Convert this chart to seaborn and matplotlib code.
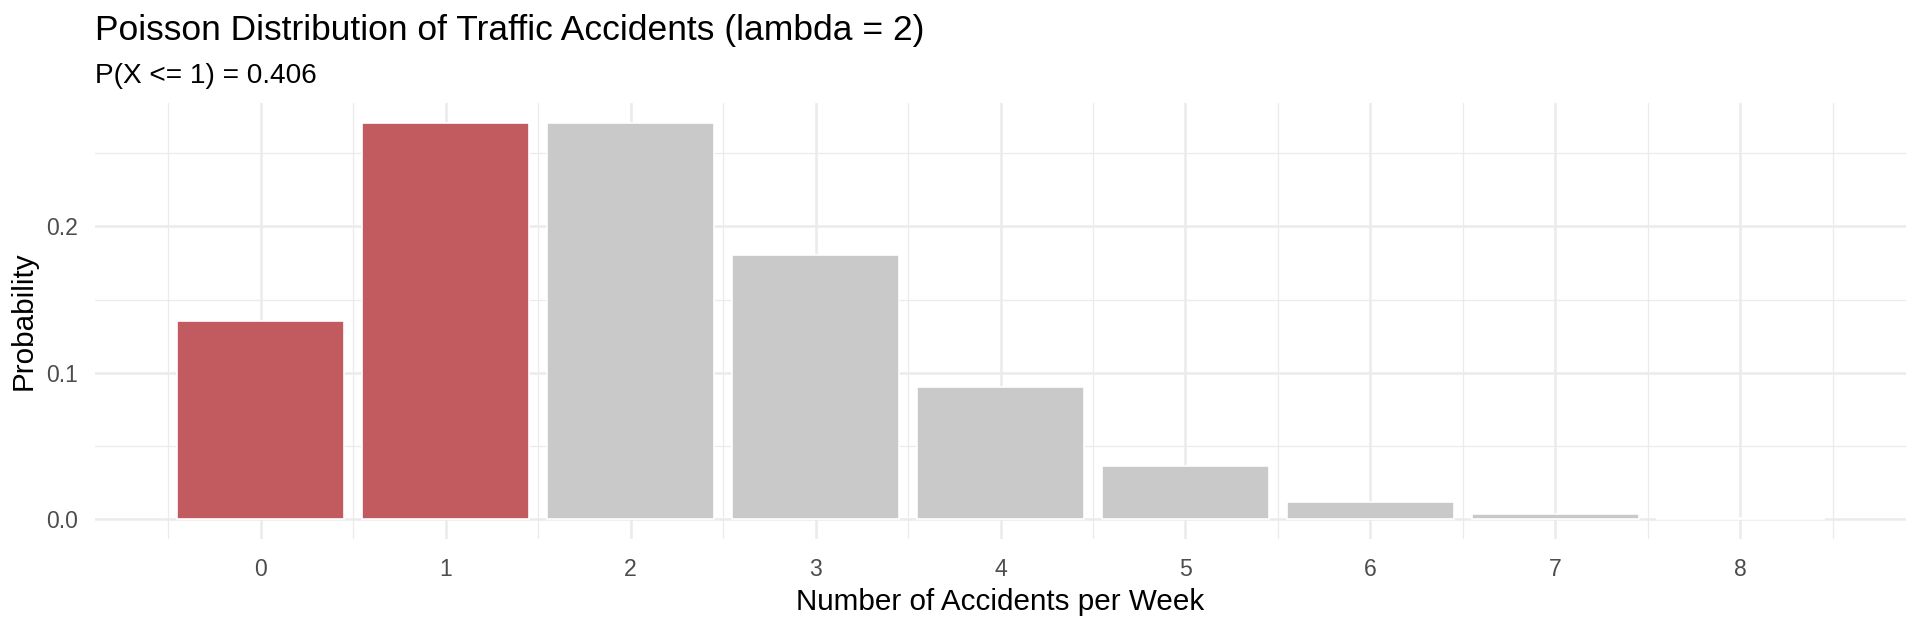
import seaborn as sns
import matplotlib.pyplot as plt
import matplotlib.ticker as mticker
import pandas as pd

# Poisson(lambda = 2) probabilities
accidents = [0, 1, 2, 3, 4, 5, 6, 7, 8]
probability = [0.1353, 0.2707, 0.2707, 0.1804, 0.0902, 0.0361, 0.0120, 0.0034, 0.0009]
highlight = ['<= 1', '<= 1', 'other', 'other', 'other', 'other', 'other', 'other', 'other']
colors = {'<= 1': '#C25B5F', 'other': '#C9C9C9'}

df = pd.DataFrame({'accidents': accidents, 'probability': probability, 'highlight': highlight})

sns.set_style('white')
plt.rcParams['font.family'] = ['Liberation Sans', 'DejaVu Sans']

fig = plt.figure(figsize=(19.2, 6.24), dpi=100)
ax = fig.add_axes([95 / 1920, 85 / 624, 1811 / 1920, 436 / 624])

sns.barplot(data=df, x='accidents', y='probability', hue='highlight', palette=colors,
            native_scale=True, width=0.9, dodge=False, legend=False, saturation=1,
            edgecolor='white', linewidth=1.2, ax=ax, zorder=3)

ax.set_xlim(-0.895, 8.895)
ax.set_ylim(-0.0135, 0.2843)
ax.xaxis.set_major_locator(mticker.FixedLocator(accidents))
ax.xaxis.set_minor_locator(mticker.FixedLocator([a - 0.5 for a in accidents] + [8.5]))
ax.yaxis.set_major_locator(mticker.FixedLocator([0.0, 0.1, 0.2]))
ax.yaxis.set_minor_locator(mticker.FixedLocator([0.05, 0.15, 0.25]))
ax.yaxis.set_major_formatter(mticker.FormatStrFormatter('%.1f'))

ax.grid(which='major', color='#EBEBEB', linewidth=1.8, zorder=0)
ax.grid(which='minor', color='#EBEBEB', linewidth=0.9, zorder=0)
ax.set_axisbelow(True)
for s in ax.spines.values():
    s.set_visible(False)
ax.tick_params(which='both', length=0)
ax.tick_params(axis='both', labelsize=16.6, labelcolor='#4D4D4D')
ax.tick_params(axis='x', pad=14)
ax.tick_params(axis='y', pad=12)

ax.set_xlabel('Number of Accidents per Week', fontsize=21.3, color='black', labelpad=5)
ax.set_ylabel('Probability', fontsize=21.3, color='black', labelpad=6)

fig.text(95 / 1920, 1 - 40 / 624, 'Poisson Distribution of Traffic Accidents (lambda = 2)',
         fontsize=25.5, color='black', ha='left', va='baseline')
fig.text(95 / 1920, 1 - 83 / 624, 'P(X <= 1) = 0.406', fontsize=20.2, color='black',
         ha='left', va='baseline')

fig.savefig('out.png', dpi=100)
